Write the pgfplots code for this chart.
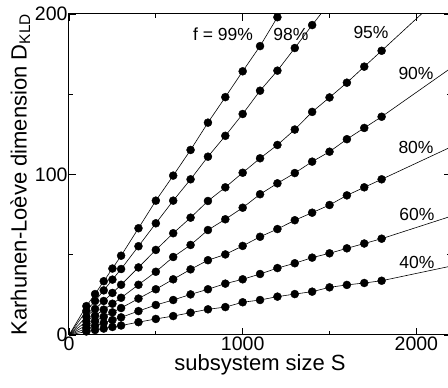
\documentclass[border=0pt]{standalone}
\usepackage{pgfplots}
\pgfplotsset{compat=1.18}
\usepackage{pgfplotstable}
\usepackage{fontspec}
\setmainfont{Liberation Sans}

% f = 99%
\pgfplotstableread{
S D
0 0
100 18.0
150 25.5
200 33.5
250 41.4
300 49.4
400 66.5
500 83.7
600 99.3
700 115.3
800 132.3
900 148.2
1000 164.3
1100 180.0
1200 198.0
1300 214.0
}\tabA
% f = 98%
\pgfplotstableread{
S D
0 0
100 15.0
150 21.2
200 27.8
250 34.5
300 41.1
400 55.3
500 69.6
600 83.7
700 97.0
800 111.1
900 124.1
1000 137.7
1100 152.2
1200 164.7
1300 178.8
1400 193.1
1500 207.0
}\tabB
% f = 95%
\pgfplotstableread{
S D
0 0
100 11.4
150 16.2
200 21.2
250 26.2
300 31.3
400 42.1
500 53.0
600 63.4
700 73.1
800 83.5
900 92.0
1000 101.1
1100 110.1
1200 118.4
1300 128.0
1400 139.0
1500 148.0
1600 157.2
1700 167.2
1800 177.1
2400 237.0
}\tabC
% f = 90%
\pgfplotstableread{
S D
0 0
100 8.5
150 12.0
200 15.8
250 19.5
300 23.2
400 31.3
500 39.4
600 48.6
700 56.1
800 65.4
900 72.1
1000 79.3
1100 87.7
1200 94.5
1300 100.9
1400 108.0
1500 114.2
1600 122.0
1700 129.0
1800 136.0
2400 181.6
}\tabD
% f = 80%
\pgfplotstableread{
S D
0 0
100 6.1
150 8.7
200 11.4
250 14.1
300 16.8
400 22.7
500 28.5
600 34.7
700 40.9
800 46.6
900 50.2
1000 55.5
1100 61.2
1200 66.0
1300 71.5
1400 76.2
1500 81.0
1600 87.0
1700 92.0
1800 97.0
2400 127.3
}\tabE
% f = 60%
\pgfplotstableread{
S D
0 0
100 4.0
150 5.7
200 7.5
250 9.3
300 11.0
400 14.9
500 18.7
600 21.8
700 25.3
800 28.5
900 32.0
1000 34.7
1100 38.0
1200 41.7
1300 44.7
1400 48.2
1500 50.9
1600 54.0
1700 57.0
1800 60.0
2400 81.0
}\tabF
% f = 40%
\pgfplotstableread{
S D
0 0
100 2.2
150 3.1
200 4.0
250 5.0
300 5.9
400 8.0
500 10.0
600 11.8
700 13.9
800 16.0
900 17.4
1000 20.4
1100 21.8
1200 23.9
1300 25.5
1400 27.0
1500 29.7
1600 31.2
1700 32.4
1800 33.8
2400 47.5
}\tabG

\pgfplotsset{
  fitline/.style={black, line width=0.6pt, no markers},
  dots/.style={black, only marks, mark=*, mark size=4pt, restrict x to domain=50:1850},
}

\begin{document}
\begin{tikzpicture}
\begin{axis}[
  scale only axis,
  width=382.1pt, height=321pt,
  xmin=0, xmax=2200, ymin=0, ymax=200,
  xtick={0,1000,2000}, minor xtick={500,1500},
  ytick={0,100,200}, minor ytick={50,150},
  tick align=inside,
  major tick length=7pt, minor tick length=4pt,
  axis line style={line width=1pt},
  every tick/.style={black, line width=0.8pt},
  /pgf/number format/assume math mode=true,
  /pgf/number format/1000 sep={},
  ticklabel style={font=\fontsize{19.5}{20}\selectfont},
  xticklabel style={yshift=2pt},
  yticklabel style={xshift=2pt},
  label style={font=\fontsize{22}{24}\selectfont},
  xlabel={subsystem size S},
  ylabel={Karhunen-Lo\`eve dimension D\textsubscript{KLD}},
  xlabel style={yshift=3pt},
  ylabel style={yshift=-2pt},
  scaled ticks=false,
]
\addplot[fitline] table {\tabA};
\addplot[dots] table {\tabA};
\addplot[fitline] table {\tabB};
\addplot[dots] table {\tabB};
\addplot[fitline] table {\tabC};
\addplot[dots] table {\tabC};
\addplot[fitline] table {\tabD};
\addplot[dots] table {\tabD};
\addplot[fitline] table {\tabE};
\addplot[dots] table {\tabE};
\addplot[fitline] table {\tabF};
\addplot[dots] table {\tabF};
\addplot[fitline] table {\tabG};
\addplot[dots] table {\tabG};
\node[font=\fontsize{17.5}{18}\selectfont] at (axis cs:887,187.5) {f = 99\%};
\node[font=\fontsize{17.5}{18}\selectfont] at (axis cs:1278,187.5) {98\%};
\node[font=\fontsize{17.5}{18}\selectfont] at (axis cs:1739,188.2) {95\%};
\node[font=\fontsize{17.5}{18}\selectfont] at (axis cs:1998,163.2) {90\%};
\node[font=\fontsize{17.5}{18}\selectfont] at (axis cs:1998,117.1) {80\%};
\node[font=\fontsize{17.5}{18}\selectfont] at (axis cs:2003,75.4) {60\%};
\node[font=\fontsize{17.5}{18}\selectfont] at (axis cs:2003,45.2) {40\%};
\end{axis}
\pgfresetboundingbox
\path (-69pt,-53pt) rectangle (379pt,335pt);
\end{tikzpicture}
\end{document}
